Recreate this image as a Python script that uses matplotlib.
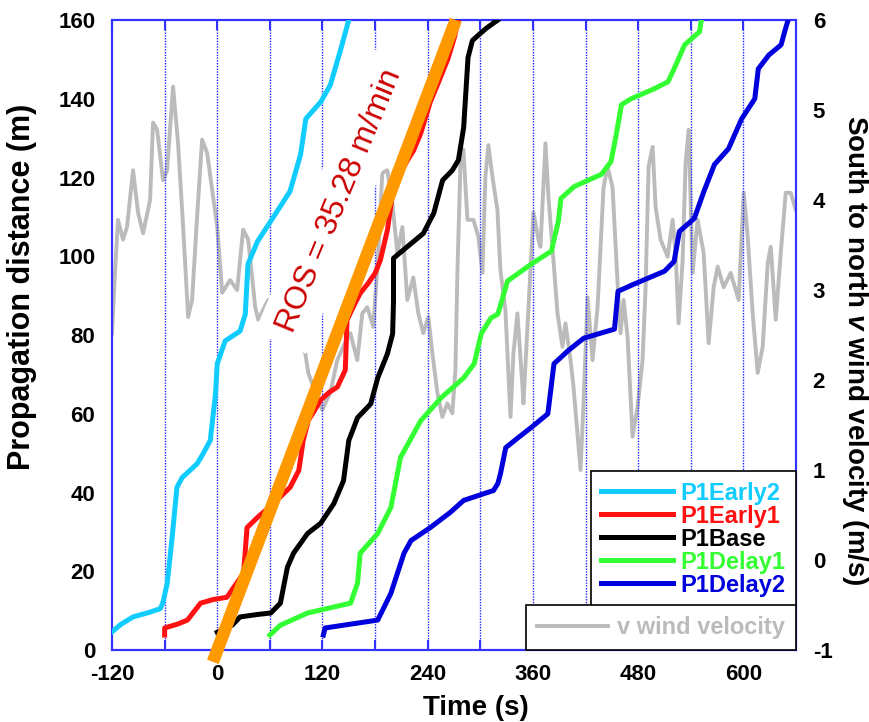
import matplotlib
matplotlib.use("Agg")
import matplotlib.pyplot as plt

plt.rcParams['font.family'] = ['Liberation Sans', 'DejaVu Sans']
plt.rcParams['font.weight'] = 'bold'
plt.rcParams['axes.unicode_minus'] = False
plt.rcParams['mathtext.fontset'] = 'custom'
plt.rcParams['mathtext.it'] = 'Liberation Sans:italic:bold'
plt.rcParams['mathtext.rm'] = 'Liberation Sans:bold'

# --- data (time in s, distance in m, wind in m/s) ---
early2_t = [-120, -110, -96, -77, -65, -62, -57, -51, -46, -40, -23, -16, -8, -2, 0, 9, 26, 32, 35, 46, 61, 83, 95, 101, 118, 129, 141, 150]
early2_d = [4.6, 6.5, 8.4, 9.6, 10.5, 12, 17, 29.6, 41.3, 43.8, 47.3, 49.9, 53.2, 65, 72.7, 78.5, 81, 85.3, 98, 103.8, 108.9, 116.5, 125.8, 134.9, 139.2, 143.5, 152.7, 160]

early1_t = [-60, -60, -45, -34, -19, -5, 11, 30, 34, 46, 64, 83, 93, 98, 104, 110, 118, 128, 137, 146, 148, 155, 163, 172, 180, 186, 194, 200, 206, 217, 224, 232, 243, 251, 263, 270, 275]
early1_d = [3.8, 5.6, 6.6, 7.6, 11.9, 12.8, 13.4, 19.5, 31.1, 33.7, 37.2, 41.3, 45.6, 53.2, 58.4, 60.5, 63.5, 65.5, 66.8, 71.1, 83.8, 87.1, 90.6, 93.1, 95.7, 99, 106.6, 116, 120, 124.4, 126.9, 131.2, 139.2, 143.5, 150.1, 155.2, 160]

base_t = [0, 17, 26, 45, 61, 72, 80, 87, 103, 118, 133, 144, 150, 160, 175, 183, 194, 200, 201, 201, 209, 235, 247, 257, 268, 275, 281, 286, 291, 300, 308, 320]
base_d = [4.5, 6.3, 8.4, 9, 9.4, 11.9, 21, 24.6, 29.6, 32.2, 37.2, 43, 53.2, 59, 62.5, 69.1, 75.2, 80.3, 88.6, 99.5, 101, 105.8, 111, 119.3, 121.8, 124.4, 132.7, 150.5, 154.8, 156.6, 158.1, 160]

delay1_t = [60, 72, 103, 152, 160, 163, 183, 198, 209, 232, 255, 281, 293, 301, 312, 320, 331, 358, 381, 389, 392, 407, 438, 449, 455, 461, 472, 498, 514, 521, 533, 550, 552]
delay1_d = [3.8, 6.3, 9.4, 11.9, 17, 24.6, 29.6, 36.2, 48.9, 58.2, 64, 69.1, 72.7, 80.3, 84.3, 85.3, 93.7, 98, 101.3, 108.9, 114.7, 117.7, 120.8, 124, 130.9, 138.5, 140, 142.5, 144.3, 147.6, 153.7, 157, 160]

delay2_t = [121, 123, 183, 198, 213, 221, 243, 266, 281, 304, 315, 320, 323, 329, 343, 358, 377, 384, 400, 418, 453, 457, 475, 510, 521, 527, 544, 555, 567, 583, 598, 613, 617, 629, 643, 647, 651]
delay2_d = [3.8, 5.6, 7.6, 14.4, 24.6, 27.8, 31.1, 35, 38, 39.7, 40.5, 42.3, 44.8, 51.4, 53.9, 56.5, 60, 72.7, 76, 79.2, 81.5, 91.1, 92.9, 96.2, 98.7, 106.3, 109.6, 116.5, 123.3, 127.3, 134.9, 140, 147.6, 151.1, 153.7, 157, 160]

wind_t = [-120, -116.6, -113.2, -107.4, -102.9, -96, -90.3, -84.6, -76.6, -73.2, -68.6, -61.8, -57.2, -50.4, -44.7, -38.9, -33.2, -28.7, -23, -17.3, -11.5, 0, 5.6, 14.7, 22.7, 29.5, 35.3, 43.3, 46.7, 58.1, 77.5, 92.3,
          100.3, 103.8, 114, 119.7, 128.9, 136.9, 143.7, 151.7, 159.7, 165.4, 171.1, 178, 183.7, 188.2, 193.9, 199.6, 205.4, 211.1, 216.8, 223.6, 229.3, 235, 240.7, 245.3, 251, 256.7, 262.4, 268.1,
          271.6, 273.9, 277.3, 280.7, 285.3, 292.1, 297.8, 302.4, 305.8, 309.2, 313.8, 319.5, 322.9, 328.6, 334.4, 337.8, 342.3, 348.1, 349.2, 353.8, 357.2, 360.6, 366.3, 368.6, 374.3, 377.7, 383.4,
          388, 393.7, 397.1, 402.9, 406.3, 414.3, 417.7, 422.3, 428, 433.7, 440.5, 445.1, 450.8, 456.5, 459.9, 463.4, 467.9, 473.6, 479.3, 485, 488.5, 491.9, 496.5, 499.9, 505.6, 513.6, 519.3,
          522.7, 526.1, 530.7, 534.1, 537.6, 542.1, 547.8, 554.7, 560.4, 566.1, 570.7, 577.5, 585.5, 594.6, 600.4, 604.9, 610.6, 616.3, 622, 627.8, 631.2, 636.9, 642.6, 648.3, 654, 659.7]
wind_v = [2.52, 3.19, 3.78, 3.56, 3.7, 4.33, 3.86, 3.63, 4.0, 4.86, 4.78, 4.22, 4.33, 5.26, 4.63, 3.7, 2.7, 2.89, 3.81, 4.67, 4.52, 3.7, 2.97, 3.11, 3.0, 3.67, 3.56, 2.81, 2.67, 2.89, 2.56, 2.39,
          2.3, 2.08, 1.81, 1.67, 1.86, 2.22, 2.37, 2.52, 2.22, 2.74, 2.81, 2.59, 3.41, 4.3, 4.33, 3.97, 3.41, 3.7, 2.89, 3.14, 2.74, 2.52, 2.7, 2.3, 1.86, 1.59, 1.74, 1.63,
          2.11, 3.22, 4.37, 4.56, 3.78, 3.78, 3.59, 3.19, 4.26, 4.61, 4.26, 3.89, 3.22, 2.78, 1.59, 2.3, 2.74, 1.92, 1.74, 2.59, 3.22, 3.86, 3.56, 3.48, 4.63, 4.03, 3.33,
          2.74, 2.37, 2.63, 2.22, 1.92, 1.0, 1.74, 2.92, 2.22, 2.81, 4.14, 4.37, 4.14, 3.08, 2.52, 2.89, 2.48, 1.37, 1.7, 2.22, 3.03, 4.37, 4.59, 3.92, 3.56, 3.37, 3.78,
          3.41, 2.63, 3.33, 4.41, 4.78, 3.19, 3.78, 3.41, 2.41, 3.03, 3.26, 3.03, 3.19, 2.89, 4.08, 3.59, 2.74, 2.08, 2.37, 3.3, 3.48, 2.67, 3.41, 4.08, 4.08, 3.89]

ros_t = [-5, 272]
ros_d = [-3, 160]
ros_label = "ROS = 35.28 m/min"

grid_t = [-60, 0, 60, 120, 180, 240, 300, 360, 420, 480, 540, 600]
xticks = [-120, 0, 120, 240, 360, 480, 600]
yticks_left = [0, 20, 40, 60, 80, 100, 120, 140, 160]
yticks_right = [-1, 0, 1, 2, 3, 4, 5, 6]

series = [
    ("P1Early2", early2_t, early2_d, "#11CCFF"),
    ("P1Early1", early1_t, early1_d, "#FF1111"),
    ("P1Base", base_t, base_d, "#000000"),
    ("P1Delay1", delay1_t, delay1_d, "#33FF33"),
    ("P1Delay2", delay2_t, delay2_d, "#0000DD"),
]

spine_blue = "#3333FF"

fig = plt.figure(figsize=(8.69, 7.22), dpi=100)
ax1 = fig.add_axes([0.1289, 0.0997, 0.7871, 0.8726])
ax2 = ax1.twinx()
ax1.set_zorder(2)
ax2.set_zorder(1)
ax1.patch.set_visible(False)

# wind velocity on the right axis, drawn under the spread curves
wind_line, = ax2.plot(wind_t, wind_v, color="#BBBBBB", lw=2.8, label="v wind velocity")
ax2.set_ylim(-1, 6)
ax2.set_yticks(yticks_right)

for g in grid_t:
    ax1.axvline(g, color="#2222FF", lw=1.0, ls=(0, (1, 1)), zorder=1)

handles = []
for name, t, d, c in series:
    ln, = ax1.plot(t, d, color=c, lw=3.6, label=name, zorder=4)
    handles.append(ln)

ax1.plot(ros_t, ros_d, color="#FF9900", lw=9, solid_capstyle="butt", zorder=5, clip_on=False)
ax1.text(139, 114, ros_label, rotation=67.5, rotation_mode="anchor", ha="center", va="center",
         fontsize=23, fontweight="normal", color="#CC0000", zorder=3,
         bbox=dict(boxstyle="square,pad=0.4", fc="white", ec="none"))

ax1.set_xlim(-120, 660)
ax1.set_ylim(0, 160)
ax1.set_xticks(xticks)
ax1.set_xticks(grid_t, minor=True)
ax1.set_yticks(yticks_left)

for ax in (ax1, ax2):
    for s in ax.spines.values():
        s.set_color(spine_blue)
        s.set_linewidth(1.5)

ax1.tick_params(axis="x", which="both", direction="in", length=7, width=1.5, color=spine_blue,
                top=True, labelsize=16, pad=10)
ax1.tick_params(axis="y", length=0, labelsize=16, pad=12)
ax2.tick_params(axis="y", length=0, labelsize=16, pad=12)
for lab in ax1.get_xticklabels() + ax1.get_yticklabels() + ax2.get_yticklabels():
    lab.set_fontweight("bold")

fig.text(22 / 869, 1 - 287 / 722, "Propagation distance (m)", rotation=90, ha="center", va="center",
         fontsize=22, fontweight="bold")
fig.text(855 / 869, 1 - 350 / 722, "South to north $v$ wind velocity (m/s)", rotation=270,
         ha="center", va="center", fontsize=20, fontweight="bold")
fig.text(476 / 869, 1 - 708 / 722, "Time (s)", ha="center", va="center", fontsize=20, fontweight="bold")

leg1 = ax1.legend(handles=handles, loc="lower right", bbox_to_anchor=(1.0, 0.068), borderaxespad=0,
                  fontsize=17, handlelength=3.05, handletextpad=0.3, labelspacing=0.0, borderpad=0.45,
                  fancybox=False, framealpha=1, edgecolor="black")
leg1.get_frame().set_linewidth(1.2)
for txt, (_, _, _, c) in zip(leg1.get_texts(), series):
    txt.set_color(c)
ax1.add_artist(leg1)

leg2 = ax1.legend(handles=[wind_line], loc="lower right", bbox_to_anchor=(1.0, 0.0), borderaxespad=0,
                  fontsize=17, handlelength=3.0, handletextpad=0.4, borderpad=0.47,
                  fancybox=False, framealpha=1, edgecolor="black")
leg2.get_frame().set_linewidth(1.2)
leg2.get_texts()[0].set_color("#BBBBBB")

fig.savefig("out.png", dpi=100, facecolor="white")
